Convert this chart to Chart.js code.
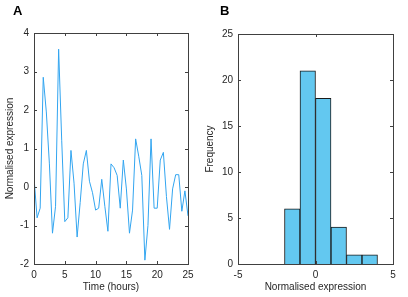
<!DOCTYPE html>
<html lang="en">
<head>
    <meta charset="UTF-8">
    <title>Expression time course and histogram</title>
    <script src="https://cdn.jsdelivr.net/npm/chart.js"></script>
    <style>
        body { margin: 0; background: #fff; }
        .panel { position: absolute; top: 0; height: 297px; }
        #panelA { left: 0; width: 200px; }
        #panelB { left: 200px; width: 208px; }
        .tag { position: absolute; font: bold 13px "Liberation Sans", Arial, sans-serif; color: #000; }
    </style>
</head>
<body>
    <div class="panel" id="panelA"><canvas id="timeChart"></canvas></div>
    <div class="panel" id="panelB"><canvas id="histChart"></canvas></div>
    <div class="tag" style="left:13px; top:3px;">A</div>
    <div class="tag" style="left:220px; top:3px;">B</div>

    <script>
        // time course (hours) and normalised expression
        const hours = [0, 0.5, 1, 1.5, 2, 2.5, 3, 3.5, 4, 4.5, 5, 5.5, 6, 6.5, 7, 7.5, 8, 8.5, 9, 9.5,
            10, 10.5, 11, 11.5, 12, 12.5, 13, 13.5, 14, 14.5, 15, 15.5, 16, 16.5, 17, 17.5, 18, 18.5, 19, 19.5,
            20, 20.5, 21, 21.5, 22, 22.5, 23, 23.5, 24, 24.5, 25];
        const expression = [0.25, -0.8, -0.55, 2.85, 1.95, 0.6, -1.2, -0.5, 3.58, 1.2,
            -0.9, -0.8, 0.95, 0.1, -1.3, -0.4, 0.6, 0.95, 0.15, -0.15,
            -0.6, -0.55, 0.2, -0.5, -1.15, 0.6, 0.5, 0.3, -0.55, 0.7,
            -0.05, -1.2, -0.6, 1.25, 0.8, 0.3, -1.9, -1.0, 1.25, -0.55,
            -0.55, 0.7, 0.9, -0.25, -1.1, -0.05, 0.32, 0.32, -0.63, -0.1, -0.75];

        // histogram bins (centres, width 1) and counts
        const binCenters = [-1.5, -0.5, 0.5, 1.5, 2.5, 3.5];
        const binCounts = [6, 21, 18, 4, 1, 1];

        const axisColor = "#404040";
        const textColor = "#262626";
        const fontFamily = '"Liberation Sans", Arial, sans-serif';
        const tickFont = { family: fontFamily, size: 10 };

        // MATLAB style box with inward ticks on all four sides
        const boxTicks = {
            id: "boxTicks",
            afterDraw(chart) {
                const ctx = chart.ctx;
                const a = chart.chartArea;
                const len = 3;
                ctx.save();
                ctx.strokeStyle = axisColor;
                ctx.lineWidth = 1;
                ctx.strokeRect(Math.round(a.left) + 0.5, Math.round(a.top) + 0.5,
                    Math.round(a.right - a.left), Math.round(a.bottom - a.top));
                ctx.beginPath();
                chart.scales.x.ticks.forEach(t => {
                    const px = Math.round(chart.scales.x.getPixelForValue(t.value)) + 0.5;
                    ctx.moveTo(px, a.bottom); ctx.lineTo(px, a.bottom - len);
                    ctx.moveTo(px, a.top); ctx.lineTo(px, a.top + len);
                });
                chart.scales.y.ticks.forEach(t => {
                    const py = Math.round(chart.scales.y.getPixelForValue(t.value)) + 0.5;
                    ctx.moveTo(a.left, py); ctx.lineTo(a.left + len, py);
                    ctx.moveTo(a.right, py); ctx.lineTo(a.right - len, py);
                });
                ctx.stroke();
                ctx.restore();
            }
        };

        function axis(opts) {
            return Object.assign({
                type: "linear",
                offset: false,
                grid: { display: false, drawTicks: false, offset: false },
                border: { display: false }
            }, opts);
        }

        Chart.defaults.animation = false;
        Chart.defaults.responsive = true;
        Chart.defaults.maintainAspectRatio = false;

        new Chart(document.getElementById("timeChart"), {
            type: "line",
            data: {
                datasets: [{
                    data: hours.map((h, i) => ({ x: h, y: expression[i] })),
                    borderColor: "rgb(50,165,240)",
                    borderWidth: 1,
                    pointRadius: 0,
                    tension: 0
                }]
            },
            options: {
                layout: { padding: { top: 33, right: 12, left: 0, bottom: 0 } },
                plugins: { legend: { display: false }, tooltip: { enabled: false } },
                scales: {
                    x: axis({
                        min: 0, max: 25,
                        ticks: { stepSize: 5, padding: 5, maxRotation: 0, color: textColor, font: tickFont },
                        title: { display: true, text: "Time (hours)", padding: { top: 0 }, color: textColor, font: tickFont },
                        afterFit: s => { s.height = 33; }
                    }),
                    y: axis({
                        min: -2, max: 4,
                        ticks: { stepSize: 1, padding: 5, color: textColor, font: tickFont },
                        title: { display: true, text: "Normalised expression", padding: { bottom: 2 }, color: textColor, font: tickFont },
                        afterFit: s => { s.width = 34; }
                    })
                }
            },
            plugins: [boxTicks]
        });

        new Chart(document.getElementById("histChart"), {
            type: "bar",
            data: {
                datasets: [{
                    xAxisID: "xb",
                    data: binCenters.map((c, i) => ({ x: c, y: binCounts[i] })),
                    backgroundColor: "rgb(99,200,240)",
                    borderColor: "#1a1a1a",
                    borderWidth: 1,
                    barPercentage: 1,
                    categoryPercentage: 1
                }]
            },
            options: {
                layout: { padding: { top: 34, right: 15, left: 0, bottom: 0 } },
                plugins: { legend: { display: false }, tooltip: { enabled: false } },
                scales: {
                    x: axis({
                        min: -5, max: 5,
                        ticks: { stepSize: 5, padding: 5, maxRotation: 0, color: textColor, font: tickFont },
                        title: { display: true, text: "Normalised expression", padding: { top: 0 }, color: textColor, font: tickFont },
                        afterFit: s => { s.height = 33; }
                    }),
                    // hidden axis that carries the bars, without ticks so bin width = 1 unit
                    xb: axis({
                        position: "bottom",
                        display: false,
                        min: -5, max: 5,
                        afterBuildTicks: s => { s.ticks = []; }
                    }),
                    y: axis({
                        min: 0, max: 25,
                        ticks: { stepSize: 5, padding: 5, color: textColor, font: tickFont },
                        title: { display: true, text: "Frequency", padding: { bottom: 2 }, color: textColor, font: tickFont },
                        afterFit: s => { s.width = 38; }
                    })
                }
            },
            plugins: [boxTicks]
        });
    </script>
</body>
</html>
